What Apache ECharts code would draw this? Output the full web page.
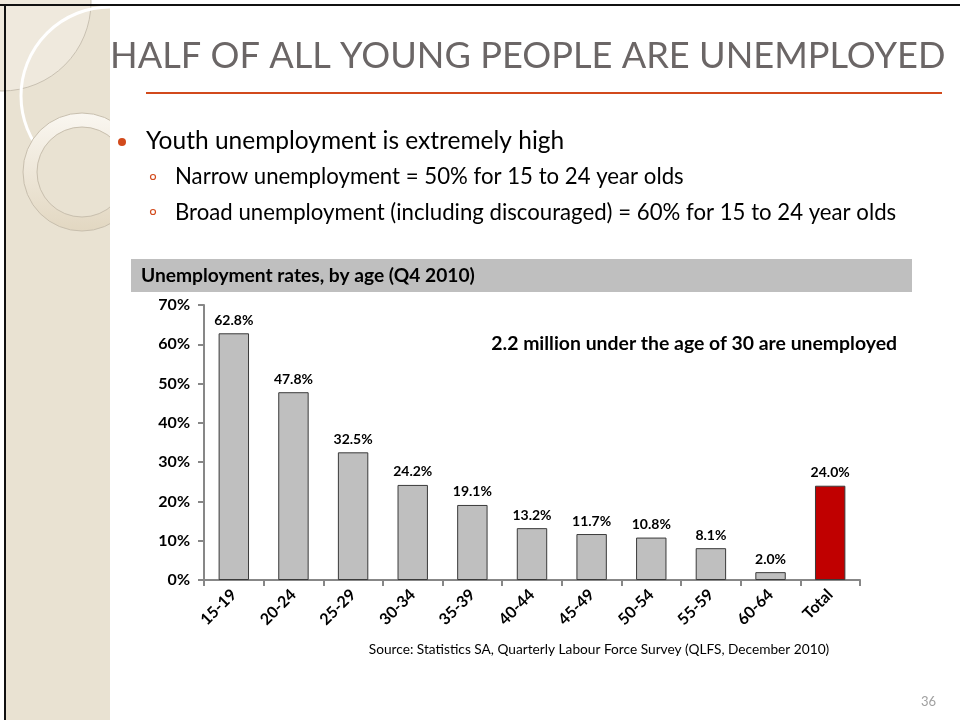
<!DOCTYPE html>
<html>
<head>
<meta charset="utf-8">
<script src="https://cdn.jsdelivr.net/npm/echarts@6/dist/echarts.min.js"></script>
<style>
html,body{margin:0;padding:0;background:#fff;}
#c{width:960px;height:720px;}
</style>
</head>
<body>
<div id="c"></div>
<script>
var categories = ['15-19','20-24','25-29','30-34','35-39','40-44','45-49','50-54','55-59','60-64','Total'];
var rates = [62.8, 47.8, 32.5, 24.2, 19.1, 13.2, 11.7, 10.8, 8.1, 2.0, 24.0];
var yTicks = [0, 10, 20, 30, 40, 50, 60, 70];

var titleText = 'HALF OF ALL YOUNG PEOPLE ARE UNEMPLOYED';
var bullet1 = 'Youth unemployment is extremely high';
var bullet2 = 'Narrow unemployment = 50% for 15 to 24 year olds';
var bullet3 = 'Broad unemployment (including discouraged) = 60% for 15 to 24 year olds';
var chartHeading = 'Unemployment rates, by age (Q4 2010)';
var annotation = '2.2 million under the age of 30 are unemployed';
var sourceText = 'Source: Statistics SA, Quarterly Labour Force Survey (QLFS, December 2010)';
var pageNum = '36';

var FONT = 'Lato, "Open Sans", sans-serif';
var chart = echarts.init(document.getElementById('c'));

var graphics = [
  {type:'rect', z:0, shape:{x:5, y:5, width:106, height:715}, style:{fill:'#e9e2d2'}},
  {type:'circle', z:1, shape:{cx:2, cy:2, r:89}, style:{fill:'#efe9dd', stroke:'#c9c1b2', lineWidth:1}},
  {type:'circle', z:2, shape:{cx:110, cy:96, r:89}, style:{fill:'none', stroke:'#ffffff', lineWidth:3}},
  {type:'circle', z:3, shape:{cx:82, cy:172, r:59}, style:{
    fill:{type:'linear', x:0, y:0, x2:0, y2:1, colorStops:[{offset:0,color:'#faf7f1'},{offset:1,color:'#e2d7c1'}]},
    stroke:'#c8bfae', lineWidth:1}},
  {type:'circle', z:4, shape:{cx:82, cy:172, r:45}, style:{fill:'#e9e2d2', stroke:'#c8bfae', lineWidth:1}},
  {type:'rect', z:5, shape:{x:110, y:6, width:850, height:714}, style:{fill:'#ffffff'}},
  {type:'rect', z:6, shape:{x:0, y:4, width:960, height:2}, style:{fill:'#111111'}},
  {type:'rect', z:6, shape:{x:4, y:4, width:2, height:716}, style:{fill:'#111111'}},
  {type:'text', z:7, x:110, y:56, style:{text:titleText, fill:'#6b6666', font:'36.2px ' + FONT, verticalAlign:'middle', align:'left'}},
  {type:'rect', z:7, shape:{x:146, y:92, width:796, height:2}, style:{fill:'#d24a1c'}},
  {type:'circle', z:7, shape:{cx:122, cy:142, r:4}, style:{fill:'#d24a1c'}},
  {type:'text', z:7, x:146, y:141, style:{text:bullet1, fill:'#000000', font:'24.5px ' + FONT, verticalAlign:'middle'}},
  {type:'circle', z:7, shape:{cx:153, cy:177, r:2.5}, style:{fill:'none', stroke:'#d24a1c', lineWidth:1.2}},
  {type:'text', z:7, x:175, y:177, style:{text:bullet2, fill:'#000000', font:'22.2px ' + FONT, verticalAlign:'middle'}},
  {type:'circle', z:7, shape:{cx:153, cy:212, r:2.5}, style:{fill:'none', stroke:'#d24a1c', lineWidth:1.2}},
  {type:'text', z:7, x:175, y:213, style:{text:bullet3, fill:'#000000', font:'22.2px ' + FONT, verticalAlign:'middle'}},
  {type:'rect', z:7, shape:{x:131, y:259, width:781, height:33}, style:{fill:'#bfbfbf'}},
  {type:'text', z:8, x:141, y:276, style:{text:chartHeading, fill:'#000000', font:'bold 19.2px ' + FONT, verticalAlign:'middle'}},
  {type:'text', z:8, x:897, y:344, style:{text:annotation, fill:'#000000', font:'bold 19.4px ' + FONT, verticalAlign:'middle', align:'right'}},
  {type:'text', z:8, x:599, y:650, style:{text:sourceText, fill:'#000000', font:'13.7px ' + FONT, verticalAlign:'middle', align:'center'}},
  {type:'text', z:8, x:936, y:702, style:{text:pageNum, fill:'#a0a0a0', font:'13px ' + FONT, verticalAlign:'middle', align:'right'}}
];

var option = {
  animation: false,
  backgroundColor: '#ffffff',
  textStyle: {fontFamily: FONT},
  graphic: {elements: graphics},
  grid: {left: 204, right: 100, top: 305, bottom: 140, containLabel: false, z: 10},
  xAxis: {
    type: 'category',
    data: categories,
    z: 10,
    axisLine: {lineStyle: {color: '#878787', width: 2}},
    axisTick: {show: true, length: 6, lineStyle: {color: '#878787', width: 2}},
    axisLabel: {rotate: 45, margin: 12, color: '#000000', fontWeight: 'bold', fontSize: 16, fontFamily: FONT}
  },
  yAxis: {
    type: 'value',
    min: yTicks[0],
    max: yTicks[yTicks.length - 1],
    interval: yTicks[1] - yTicks[0],
    z: 10,
    axisLine: {show: true, lineStyle: {color: '#878787', width: 2}},
    axisTick: {show: true, length: 6, lineStyle: {color: '#878787', width: 2}},
    splitLine: {show: false},
    axisLabel: {formatter: '{value}%', margin: 14, color: '#000000', fontWeight: 'bold', fontSize: 16, fontFamily: FONT}
  },
  series: [{
    type: 'bar',
    z: 10,
    barWidth: '51%',
    data: rates.map(function (v, i) {
      return categories[i] === 'Total'
        ? {value: v, itemStyle: {color: '#c00000', borderColor: '#3a3a3a', borderWidth: 1}}
        : {value: v};
    }),
    itemStyle: {color: '#bfbfbf', borderColor: '#3a3a3a', borderWidth: 1},
    label: {
      show: true, position: 'top', distance: 6,
      formatter: function (p) { return p.value.toFixed(1) + '%'; },
      color: '#000000', fontWeight: 'bold', fontSize: 14, fontFamily: FONT
    }
  }]
};
chart.setOption(option);
</script>
</body>
</html>
